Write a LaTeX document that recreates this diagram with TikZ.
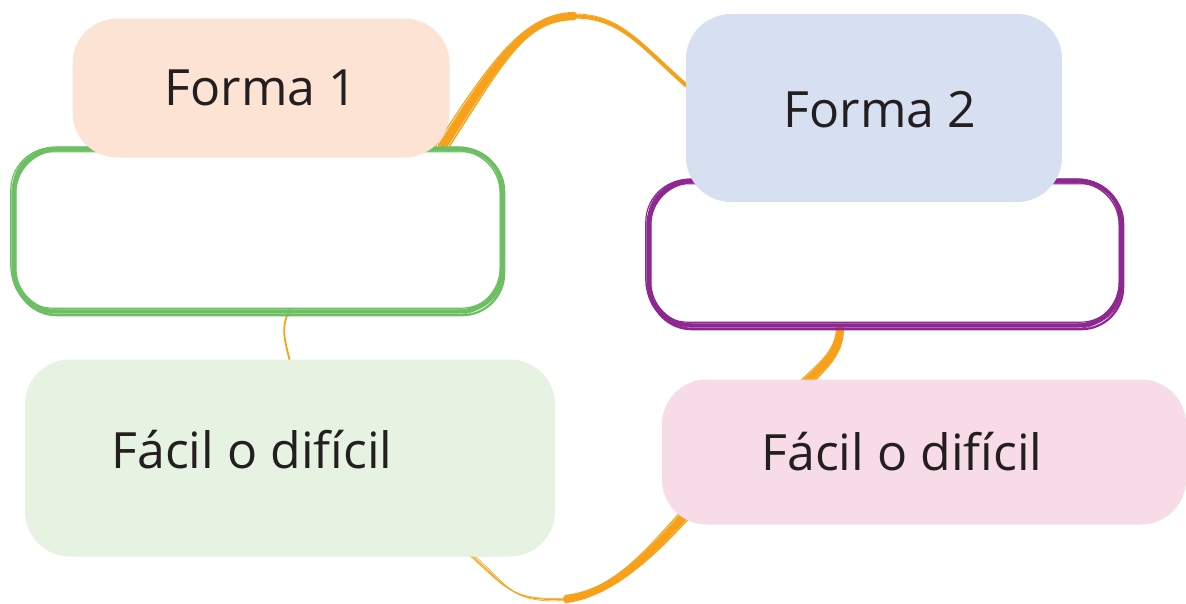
\documentclass[tikz,border=0pt]{standalone}
\usepackage{fontspec}
\setmainfont{Open Sans}
\usetikzlibrary{backgrounds}
\definecolor{melocoton}{HTML}{FDE3D4}
\definecolor{celeste}{HTML}{D7E0F0}
\definecolor{verdeclaro}{HTML}{E6F2E2}
\definecolor{rosado}{HTML}{F7DBE6}
\definecolor{verdetrazo}{HTML}{6CBF63}
\definecolor{morado}{HTML}{8E278F}
\definecolor{naranja}{HTML}{F7A11B}
\definecolor{tinta}{HTML}{231F20}

\tikzset{
  caja/.style={rectangle, rounded corners=45pt, inner sep=0pt},
  contorno/.style={rectangle, inner sep=0pt},
  etiqueta/.style={font=\fontsize{50}{60}\selectfont, text=tinta, inner sep=0pt},
  trazo/.style={rounded corners=42pt, line cap=round},
  pincel/.style={naranja, line cap=round},
}

\begin{document}
\begin{tikzpicture}[x=1pt, y=-1pt]
  \useasboundingbox (0,0) rectangle (1186,603);

  % Contornos a mano alzada
  \node[contorno, minimum width=488pt, minimum height=162pt] (out1) at (258,230) {};
  \node[contorno, minimum width=472pt, minimum height=144pt] (out2) at (885,253) {};
  \foreach \ax/\ay/\bx/\by/\g in {0/0/0/0/3.6, 2/2/-2/-1/1.4, -2/3/2/1/1.0, 2/-2/-2/3/0.8, -3/-1/1/-3/1.2, 1/1/2/4/2.2, -1/-2/-1/2/0.6}{
    \draw[trazo, verdetrazo, line width=\g pt] ([shift={(\ax,\ay)}]out1.north west) rectangle ([shift={(\bx,\by)}]out1.south east);
    \draw[trazo, morado, line width=\g pt] ([shift={(\ax,\ay)}]out2.north west) rectangle ([shift={(\bx,\by)}]out2.south east);
  }

  % Cajas de color
  \node[caja, fill=melocoton, minimum width=377pt, minimum height=139pt] (forma1) at (261,88) {};
  \node[caja, fill=celeste, minimum width=376pt, minimum height=188pt] (forma2) at (874,108) {};
  \node[caja, fill=verdeclaro, minimum width=530pt, minimum height=197pt] (res1) at (290,458) {};
  \node[caja, fill=rosado, minimum width=524pt, minimum height=145pt] (res2) at (924,452) {};

  % Textos
  \node[etiqueta] (t1) at (forma1.center) {Forma 1};
  \node[etiqueta] (t2) at ([shift={(6,2)}]forma2.center) {Forma 2};
  \node[etiqueta] (t3) at ([shift={(-38,-8)}]res1.center) {Fácil o difícil};
  \node[etiqueta] (t4) at ([shift={(-22,0)}]res2.center) {Fácil o difícil};

  % Conectores de pincel
  \coordinate (arcoA) at ([shift={(-7,-12)}]forma1.south east);
  \coordinate (cima) at (575,16);
  \coordinate (arcoB) at ([shift={(0,-23)}]forma2.west);
  \coordinate (bajoA) at ([shift={(25,-12)}]res2.south west);
  \coordinate (fondo) at (565,599);
  \coordinate (bajoB) at ([shift={(-88,-5)}]res1.south east);
  \begin{scope}[on background layer]
    \foreach \d/\g in {0/5, 4/2.4, -4/2.2, 7/1.4, -7/1.2, 2/1.0}{
      \draw[pincel, line width=\g pt] ([shift={(\d,0)}]arcoA) .. controls +(55,-85) and +(-50,0) .. ([shift={(0,\d/2)}]cima);
      \draw[pincel, line width=\g pt] ([shift={(\d,0)}]bajoA) .. controls +(-40,45) and +(45,-5) .. ([shift={(0,\d/2)}]fondo);
      \draw[pincel, line width=\g pt] ([shift={(-45+\d/2,2)}]out2.south) .. controls +(0,25) and +(20,-20) .. ([shift={(-121+\d,6)}]res2.north);
    }
    \foreach \d/\g in {0/3, 2/1.2, -2/0.8}{
      \draw[pincel, line width=\g pt] ([shift={(0,\d)}]cima) .. controls +(45,0) and +(-45,-40) .. ([shift={(0,\d)}]arcoB);
    }
    \foreach \d/\g in {0/1.2, 3/0.6, -2/0.5}{
      \draw[pincel, line width=\g pt] ([shift={(0,\d/2)}]fondo) .. controls +(-55,3) and +(40,35) .. ([shift={(\d,0)}]bajoB);
    }
    \draw[pincel, line width=1.8pt] ([shift={(32,-2)}]out1.south) .. controls +(-10,18) and +(-5,-20) .. ([shift={(0,2)}]res1.north);
  \end{scope}
\end{tikzpicture}
\end{document}
